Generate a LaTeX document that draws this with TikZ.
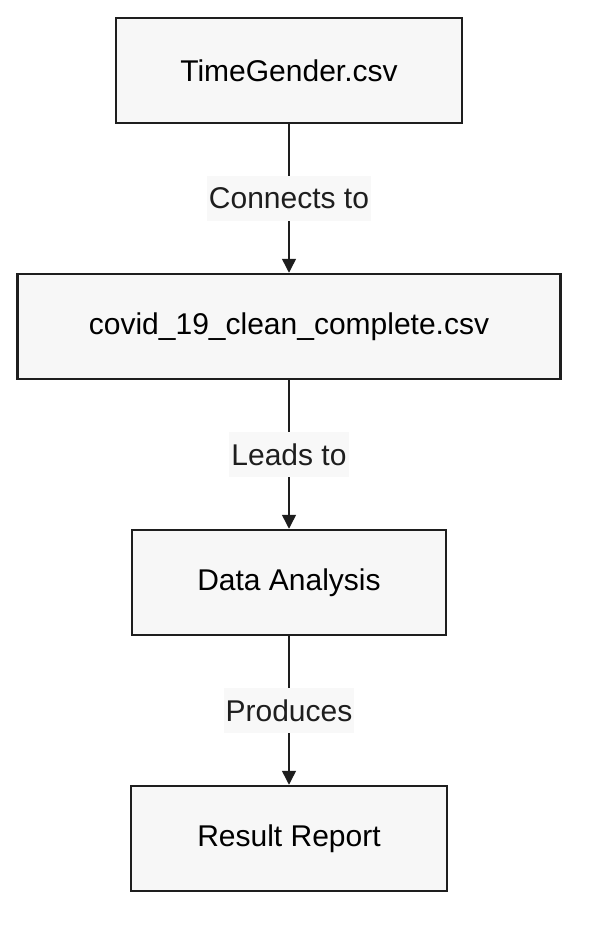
\documentclass[tikz,border=0pt]{standalone}
\usepackage{fontspec}
\setmainfont{Liberation Sans}
\usetikzlibrary{arrows.meta,positioning}
\definecolor{boxfill}{HTML}{F7F7F7}
\definecolor{lblfill}{HTML}{F8F8F8}
\definecolor{inkdark}{HTML}{1E1E1E}
\tikzset{
  box style/.style={rectangle, draw=inkdark, line width=2.5pt, fill=boxfill,
    minimum height=105pt, align=center, font=\fontsize{30}{34}\selectfont},
  arr style/.style={-{Triangle[length=14pt,width=14pt]}, line width=1.5pt, draw=inkdark},
  lbl style/.style={fill=lblfill, inner xsep=2pt, minimum height=45pt,
    font=\fontsize{30}{34}\selectfont, text=inkdark}
}

\begin{document}
\begin{tikzpicture}[x=1pt, y=-1pt, node distance=148.5pt]
\useasboundingbox (0,0) rectangle (594,934);
\node[box style, minimum width=346pt] (timegender) at (289,70.5) {TimeGender.csv};
\node[box style, minimum width=543pt, below=of timegender] (covid) {covid\_19\_clean\_complete.csv};
\node[box style, minimum width=314pt, below=of covid] (analysis) {Data Analysis};
\node[box style, minimum width=316pt, below=of analysis] (report) {Result Report};
\draw[arr style] (timegender) -- node[lbl style] {Connects to} (covid);
\draw[arr style] (covid) -- node[lbl style] {Leads to} (analysis);
\draw[arr style] (analysis) -- node[lbl style] {Produces} (report);
\end{tikzpicture}
\end{document}
